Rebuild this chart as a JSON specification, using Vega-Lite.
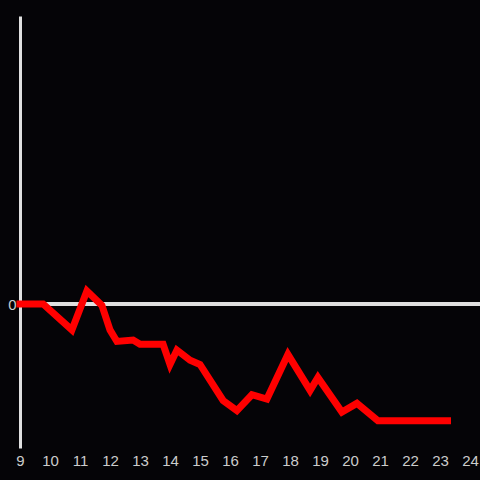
{
  "$schema": "https://vega.github.io/schema/vega-lite/v6.json",
  "width": 460,
  "height": 432,
  "autosize": {"type": "none"},
  "padding": {"left": 20, "top": 16, "right": 0, "bottom": 32},
  "background": "#050407",
  "config": {
    "view": {"stroke": null},
    "axis": {"labelFont": "Liberation Sans", "labelFontSize": 15, "labelColor": "#cccccc", "grid": false, "ticks": false, "title": null}
  },
  "data": {"values": [
    {"t": 9, "v": 0},
    {"t": 9.77, "v": 0},
    {"t": 10.73, "v": -0.18},
    {"t": 11.23, "v": 0.09},
    {"t": 11.73, "v": -0.01},
    {"t": 12.0, "v": -0.18},
    {"t": 12.23, "v": -0.26},
    {"t": 12.77, "v": -0.25},
    {"t": 13.0, "v": -0.28},
    {"t": 13.77, "v": -0.28},
    {"t": 14.0, "v": -0.42},
    {"t": 14.23, "v": -0.32},
    {"t": 14.67, "v": -0.39},
    {"t": 15.0, "v": -0.42},
    {"t": 15.77, "v": -0.67},
    {"t": 16.23, "v": -0.74},
    {"t": 16.73, "v": -0.63},
    {"t": 17.23, "v": -0.66},
    {"t": 17.93, "v": -0.35},
    {"t": 18.67, "v": -0.6},
    {"t": 18.93, "v": -0.51},
    {"t": 19.73, "v": -0.75},
    {"t": 20.23, "v": -0.69},
    {"t": 20.93, "v": -0.81},
    {"t": 23.25, "v": -0.81}
  ]},
  "layer": [
    {
      "mark": {"type": "rule", "color": "#e0e0e0", "strokeWidth": 3},
      "encoding": {"y": {"datum": 0, "type": "quantitative", "scale": {"domain": [-1, 2], "nice": false},
              "axis": {"values": [0], "format": "d", "domain": true, "domainColor": "#e0e0e0", "domainWidth": 3, "labelPadding": 4}}}
    },
    {
      "mark": {"type": "line", "color": "#ff0000", "strokeWidth": 7, "strokeCap": "square", "strokeJoin": "miter"},
      "encoding": {
        "x": {"field": "t", "type": "quantitative", "scale": {"domain": [9, 24.3333], "nice": false, "zero": false},
              "axis": {"values": [9,10,11,12,13,14,15,16,17,18,19,20,21,22,23,24], "domain": false, "labelPadding": 5, "labelFlush": false}},
        "y": {"field": "v", "type": "quantitative"}
      }
    }
  ]
}
